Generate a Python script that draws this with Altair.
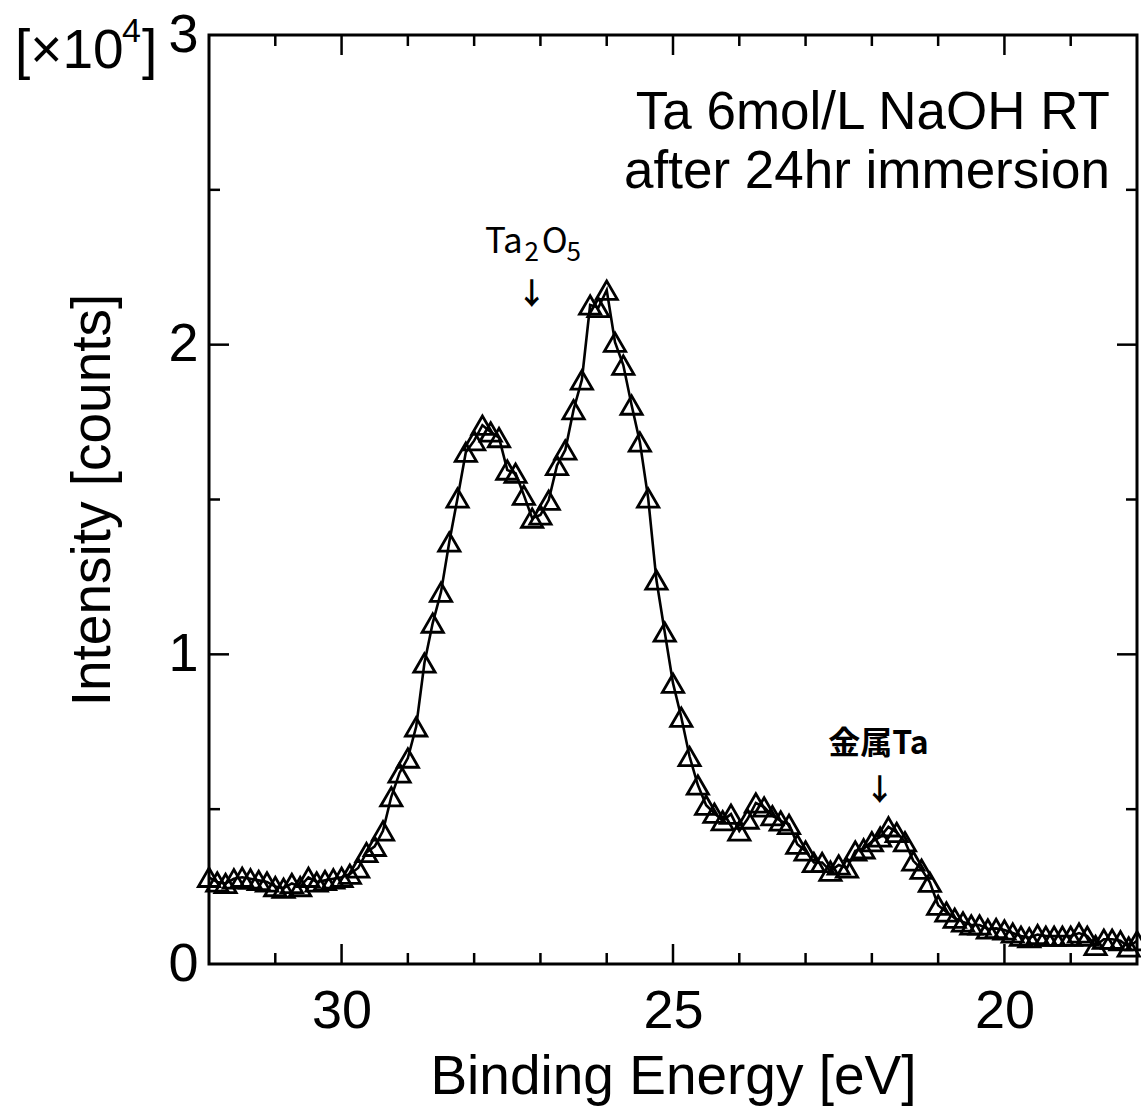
import altair as alt
import pandas as pd

# ---------------- data ----------------
energy_ev = [
    32.000, 31.875, 31.750, 31.625, 31.500, 31.375, 31.250, 31.125,
    31.000, 30.875, 30.750, 30.625, 30.500, 30.375, 30.250, 30.125,
    30.000, 29.875, 29.750, 29.625, 29.500, 29.375, 29.250, 29.125,
    29.000, 28.875, 28.750, 28.625, 28.500, 28.375, 28.250, 28.125,
    28.000, 27.875, 27.750, 27.625, 27.500, 27.375, 27.250, 27.125,
    27.000, 26.875, 26.750, 26.625, 26.500, 26.375, 26.250, 26.125,
    26.000, 25.875, 25.750, 25.625, 25.500, 25.375, 25.250, 25.125,
    25.000, 24.875, 24.750, 24.625, 24.500, 24.375, 24.250, 24.125,
    24.000, 23.875, 23.750, 23.625, 23.500, 23.375, 23.250, 23.125,
    23.000, 22.875, 22.750, 22.625, 22.500, 22.375, 22.250, 22.125,
    22.000, 21.875, 21.750, 21.625, 21.500, 21.375, 21.250, 21.125,
    21.000, 20.875, 20.750, 20.625, 20.500, 20.375, 20.250, 20.125,
    20.000, 19.875, 19.750, 19.625, 19.500, 19.375, 19.250, 19.125,
    19.000, 18.875, 18.750, 18.625, 18.500, 18.375, 18.250, 18.125,
    18.000,
]

# intensity in units of 10^4 counts
intensity_1e4 = [
    0.280, 0.265, 0.260, 0.275, 0.280, 0.275, 0.270, 0.265,
    0.250, 0.245, 0.260, 0.250, 0.280, 0.265, 0.270, 0.275,
    0.280, 0.290, 0.310, 0.360, 0.380, 0.430, 0.540, 0.617,
    0.665, 0.766, 0.972, 1.101, 1.201, 1.363, 1.505, 1.653,
    1.690, 1.740, 1.718, 1.700, 1.595, 1.585, 1.514, 1.440,
    1.450, 1.498, 1.610, 1.660, 1.790, 1.886, 2.128, 2.120,
    2.176, 2.008, 1.934, 1.805, 1.686, 1.505, 1.240, 1.072,
    0.907, 0.797, 0.670, 0.578, 0.513, 0.487, 0.463, 0.484,
    0.430, 0.468, 0.520, 0.507, 0.479, 0.462, 0.451, 0.387,
    0.365, 0.328, 0.328, 0.300, 0.320, 0.310, 0.365, 0.372,
    0.395, 0.410, 0.443, 0.425, 0.395, 0.333, 0.306, 0.264,
    0.190, 0.168, 0.148, 0.136, 0.126, 0.126, 0.113, 0.115,
    0.110, 0.100, 0.090, 0.085, 0.095, 0.090, 0.090, 0.090,
    0.090, 0.100, 0.090, 0.060, 0.080, 0.080, 0.075, 0.055,
    0.075,
]

x_tick_labels = [30, 25, 20]
x_minor_ticks = [31, 29, 28, 27, 26, 24, 23, 22, 21, 19]
y_tick_labels = [0, 1, 2, 3]
y_major_ticks = [1, 2]
y_minor_ticks = [0.5, 1.5, 2.5]

title_lines = ["Ta 6mol/L NaOH RT", "after 24hr immersion"]
oxide_parts = ["Ta", "2", "O", "5"]          # Ta2O5 with subscripts
oxide_energy, oxide_level = 27.1, 2.296
metal_label, metal_energy, metal_level = "金属Ta", 21.9, 0.71
arrow_energy = [27.13, 21.88]
arrow_level = [2.16, 0.56]

# ---------------- styling ----------------
W, H = 928, 929
FONT = "Liberation Sans"
JP = "Noto Sans CJK JP"
MAJOR, MINOR = 20, 11

df = pd.DataFrame({"E": energy_ev, "I": intensity_1e4})

xs = alt.Scale(domain=[18, 32], reverse=True, nice=False, zero=False)
ys = alt.Scale(domain=[0, 3], nice=False, zero=False)

x_axis = alt.Axis(values=x_tick_labels, format="d", ticks=False, tickSize=0,
                  domain=False, grid=False, labelFont=FONT, labelFontSize=54,
                  labelPadding=20, labelColor="black",
                  title="Binding Energy [eV]", titleFont=FONT, titleFontSize=55,
                  titleFontWeight="normal", titleColor="black", titlePadding=12)
y_axis = alt.Axis(values=y_tick_labels, format="d", ticks=False, tickSize=0,
                  domain=False, grid=False, labelFont=FONT, labelFontSize=54,
                  labelPadding=11, labelColor="black",
                  title="Intensity [counts]", titleFont=FONT, titleFontSize=55,
                  titleFontWeight="normal", titleColor="black", titlePadding=46)


def X(field):
    return alt.X(f"{field}:Q", scale=xs, axis=x_axis)


def Y(field):
    return alt.Y(f"{field}:Q", scale=ys, axis=y_axis)


line = alt.Chart(df).mark_line(color="black", strokeWidth=2.6).encode(
    x=X("E"), y=Y("I"))
pts = alt.Chart(df).mark_point(shape="triangle-up", filled=False, color="black",
                               strokeWidth=2.8, size=450, opacity=1).encode(
    x=X("E"), y=Y("I"))

layers = [line, pts]


def xticks(vals, length):
    d = pd.DataFrame({"E": vals})
    bottom = alt.Chart(d).mark_rule(color="black", strokeWidth=2.5).encode(
        x=X("E"), y=alt.value(H), y2=alt.value(H - length))
    top = alt.Chart(d).mark_rule(color="black", strokeWidth=2.5).encode(
        x=X("E"), y=alt.value(0), y2=alt.value(length))
    return [bottom, top]


def yticks(vals, length):
    d = pd.DataFrame({"I": vals})
    left = alt.Chart(d).mark_rule(color="black", strokeWidth=2.5).encode(
        y=Y("I"), x=alt.value(0), x2=alt.value(length))
    right = alt.Chart(d).mark_rule(color="black", strokeWidth=2.5).encode(
        y=Y("I"), x=alt.value(W), x2=alt.value(W - length))
    return [left, right]


layers += xticks(x_tick_labels, MAJOR)
layers += xticks(x_minor_ticks, MINOR)
layers += yticks(y_major_ticks, MAJOR)
layers += yticks(y_minor_ticks, MINOR)

# ---- peak annotations ----
ox = pd.DataFrame({"E": [oxide_energy], "I": [oxide_level]})
# (font size, horizontal offset, vertical offset) for each part of Ta2O5
oxide_style = [(35, -30, 0), (26, -2, 8), (35, 21, 0), (26, 40, 8)]
for part, (fs, dx, dy) in zip(oxide_parts, oxide_style):
    layers.append(alt.Chart(ox).mark_text(
        text=part, font=JP, fontSize=fs, fontWeight=400, color="black",
        align="center", baseline="alphabetic", dx=dx, dy=dy).encode(
        x=X("E"), y=Y("I")))

mt = pd.DataFrame({"E": [metal_energy], "I": [metal_level], "t": [metal_label]})
layers.append(alt.Chart(mt).mark_text(
    font=JP, fontSize=32, fontWeight=700, color="black", baseline="middle").encode(
    x=X("E"), y=Y("I"), text="t:N"))

ar = pd.DataFrame({"E": arrow_energy, "I": arrow_level})
layers.append(alt.Chart(ar).mark_text(
    text="↓", font=JP, fontSize=30, fontWeight=700, color="black",
    baseline="middle").encode(x=X("E"), y=Y("I")))

# ---- title lines (top right, inside plot) ----
for txt, yy in zip(title_lines, [94, 153]):
    layers.append(alt.Chart(pd.DataFrame({"t": [txt]})).mark_text(
        font=FONT, fontSize=53, align="right", baseline="alphabetic",
        color="black").encode(x=alt.value(901), y=alt.value(yy), text="t:N"))

# ---- axis multiplier "[x10^4]" ----
mult = [("[×10", 55, -194, 33), ("4", 34, -87, 7), ("]", 55, -67, 33)]
for txt, fs, xx, yy in mult:
    layers.append(alt.Chart(pd.DataFrame({"t": [txt]})).mark_text(
        font=FONT, fontSize=fs, align="left", baseline="alphabetic",
        color="black").encode(x=alt.value(xx), y=alt.value(yy), text="t:N"))

chart = alt.layer(*layers).properties(
    width=W, height=H,
    autosize=alt.AutoSizeParams(type="none"),
    padding={"left": 209, "top": 35, "right": 4, "bottom": 149},
    background="white",
).configure_view(stroke="black", strokeWidth=3)

chart.save("out.html", embed_options={"renderer": "svg", "actions": False})
